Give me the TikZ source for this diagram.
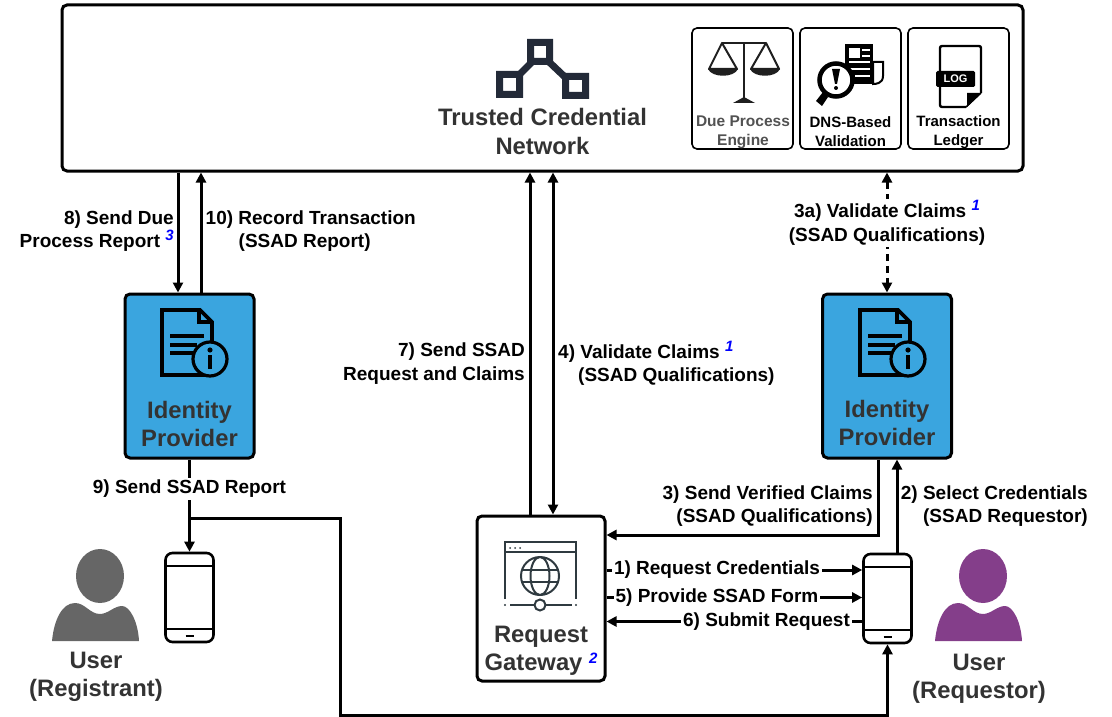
\documentclass[tikz,border=0pt]{standalone}
\usepackage{fontspec}
\setmainfont{Liberation Sans}
\usetikzlibrary{arrows.meta}
\definecolor{idpblue}{HTML}{3AA5DF}
\definecolor{textgray}{HTML}{333333}
\definecolor{logodark}{HTML}{232A38}
\definecolor{webgray}{HTML}{2F3A40}
\definecolor{userpurple}{HTML}{843E8A}
\definecolor{usergray}{HTML}{666666}
\newcommand{\refmark}[1]{\raisebox{7pt}{\fontsize{15}{15}\selectfont\itshape\textcolor{blue}{#1}}}
\tikzset{
  every node/.style={font=\fontsize{19}{23.5}\selectfont\bfseries, inner sep=0pt},
  mainbox/.style={draw, line width=3pt, rounded corners=5pt},
  toolbox/.style={draw, line width=1.6pt, rounded corners=5pt, minimum width=101pt, minimum height=121pt},
  idpbox/.style={mainbox, fill=idpblue, minimum width=129pt, minimum height=164pt},
  phonebox/.style={draw, line width=2.6pt, rounded corners=7pt, minimum width=48pt, minimum height=89pt},
  title/.style={font=\fontsize{23.8}{28.5}\selectfont\bfseries, text=textgray, align=center},
  tooltext/.style={font=\fontsize{15}{18.5}\selectfont\bfseries, align=center},
  flowlabel/.style={fill=white, inner xsep=2pt, inner ysep=2pt},
  flow/.style={line width=3pt, -{Triangle[length=10pt,width=10pt]}},
  flowboth/.style={line width=3pt, {Triangle[length=10pt,width=10pt]}-{Triangle[length=10pt,width=10pt]}},
  flowdash/.style={flowboth, dash pattern=on 7pt off 5pt},
  docinfo/.pic={
    \draw[line width=3.6pt, miter limit=2] (-25,-33) -- (13,-33) -- (25,-21) -- (25,32) -- (-25,32) -- cycle;
    \draw[line width=3.2pt] (12,-33) -- (12,-21) -- (25,-21);
    \draw[line width=3.2pt] (-17,-7) -- (17,-7) (-17,2) -- (10,2) (-17,10) -- (6,10);
    \draw[line width=3.2pt, fill=idpblue] (23,16) circle (17);
    \fill (23,7) circle (2.6);
    \draw[line width=3.8pt] (23,12) -- (23,26);
  },
  usericon/.pic={
    \fill (0,0) ellipse (24 and 27);
    \fill (-48,65) .. controls (-46,44) and (-38,27) .. (-25,27)
      .. controls (-15,27) and (-10,38) .. (0,38)
      .. controls (8,38) and (14,30) .. (22,30)
      .. controls (30,30) and (38,46) .. (39,65) -- cycle;
  },
}
\begin{document}
\begin{tikzpicture}[x=1pt,y=-1pt]
  \useasboundingbox (0,0) rectangle (1112,717);
  \node[mainbox, minimum width=961pt, minimum height=166pt] (network) at (542.5,88) {};
  \node[toolbox] (dueprocess) at (742.5,88.5) {};
  \node[toolbox] (dnsbased) at (850.5,88.5) {};
  \node[toolbox] (ledger) at (958.5,88.5) {};
  \node[idpbox] (idpleft) at (189.5,376) {};
  \node[idpbox] (idpright) at (887,376) {};
  \node[mainbox, minimum width=128pt, minimum height=165pt] (gateway) at (541,598.5) {};
  \node[phonebox] (phoneleft) at (189.5,597.5) {};
  \node[phonebox] (phoneright) at (887.5,598.5) {};
  \coordinate (reportdown) at ([xshift=-11.5pt]idpleft.north);
  \coordinate (recordup) at ([xshift=11.5pt]idpleft.north);
  \coordinate (requestup) at ([xshift=-11pt]gateway.north);
  \coordinate (validateboth) at ([xshift=12pt]gateway.north);
  \coordinate (branch) at (idpleft.south |- 0,518);
  \coordinate (branchright) at (340,518);
  \coordinate (branchdown) at (340,715);
  \coordinate (branchend) at (phoneright.south |- 0,715);
  \coordinate (verifiedcorner) at (878,535);
  % connectors
  \draw[flow] (network.south -| reportdown) -- (reportdown);
  \draw[flow] (recordup) -- (network.south -| recordup);
  \draw[flow] (requestup) -- (network.south -| requestup);
  \draw[flowboth] (validateboth) -- (network.south -| validateboth);
  \draw[flowdash] (network.south -| idpright.north) -- (idpright.north);
  \draw[flow] (idpleft.south) -- (phoneleft.north);
  \draw[flow] (branch) -- (branchright) -- (branchdown) -- (branchend) -- (phoneright.south);
  \draw[flow] (idpright.south -| verifiedcorner) -- (verifiedcorner) -- (gateway.east |- verifiedcorner);
  \draw[flow] ([xshift=9.5pt]phoneright.north) -- ([xshift=10pt]idpright.south);
  \draw[flow] (gateway.east |- 0,570) -- (phoneright.west |- 0,570);
  \draw[flow] (gateway.east |- 0,597.5) -- (phoneright.west |- 0,597.5);
  \draw[flow] (phoneright.west |- 0,621.5) -- (gateway.east |- 0,621.5);
  % labels
  \node[align=right, anchor=east] (sendreport) at (174,231) {8) Send Due\\Process Report \refmark{3}};
  \node[align=left, anchor=west] (record) at (205.5,231) {10) Record Transaction\\\hspace*{33pt}(SSAD Report)};
  \node[align=right, anchor=east] (sendrequest) at (525,363.5) {7) Send SSAD\\Request and Claims};
  \node[align=left, anchor=west] (validatefour) at (558,363.5) {4) Validate Claims \refmark{1}\\\hspace*{20pt}(SSAD Qualifications)};
  \node[flowlabel, align=center] (validatethree) at (887,223) {3a) Validate Claims \refmark{1}\\(SSAD Qualifications)};
  \node[align=right, anchor=east] (verified) at (873,506) {3) Send Verified Claims\\(SSAD Qualifications)};
  \node[align=right, anchor=east] (select) at (1088,506) {2) Select Credentials\\(SSAD Requestor)};
  \node[flowlabel] (sendssad) at (189.5,489) {9) Send SSAD Report};
  \node[flowlabel] (reqcred) at (717,570) {1) Request Credentials};
  \node[flowlabel] (provide) at (717,598) {5) Provide SSAD Form};
  \node[flowlabel] (submit) at (766.5,622) {6) Submit Request};
  % network
  \node[title] (networktext) at (542.5,131.5) {Trusted Credential\\Network};
  \draw[logodark, line width=7pt] (518,76) -- (534,60) (547,60) -- (566,78);
  \fill[logodark, even odd rule] (527,39) rectangle (553,65) (534,46) rectangle (546,58);
  \fill[logodark, even odd rule] (496,71) rectangle (523,98) (503,78) rectangle (516,91);
  \fill[logodark, even odd rule] (562,73) rectangle (589,99) (569,80) rectangle (582,92);
  \node[tooltext, text=textgray!85, font=\fontsize{15.5}{18.5}\selectfont\bfseries] (duetext) at (743,132.5) {Due Process\\Engine};
  \node[tooltext] (dnstext) at (850.5,131.5) {DNS-Based\\Validation};
  \node[tooltext] (ledgertext) at (958.5,132) {Transaction\\Ledger};
  % scales
  \draw[textgray!60!black, line width=2.5pt] (722,43) -- (766,43) (744,43) -- (744,99);
  \fill[textgray!60!black] (733,103) -- (744,97) -- (755,103) -- cycle;
  \draw[textgray!60!black, line width=2pt, line join=round] (709,69) -- (722,43) -- (737,69) -- cycle (751,69) -- (766,43) -- (779,69) -- cycle;
  \fill[textgray!60!black] (708,69) .. controls (712,78) and (734,78) .. (738,69) -- cycle;
  \fill[textgray!60!black] (750,69) .. controls (754,78) and (776,78) .. (780,69) -- cycle;
  % dns icon
  \fill (845,44) rectangle (873,84);
  \draw[line width=2pt, fill=white] (873,62) -- (883,62) -- (883,76) .. controls (883,84) and (875,84) .. (873,84) -- cycle;
  \fill[white] (849,48) rectangle (860,58);
  \draw[white, line width=1.6pt] (862,50) -- (870,50) (862,56) -- (870,56) (849,62) -- (870,62) (849,69) -- (870,69) (855,76) -- (870,76);
  \draw[line width=4.5pt, fill=white] (836,80) circle (16.5);
  \fill (828,97) -- (822,106) -- (816,101) -- (823,92) -- cycle;
  \fill (832,69) -- (840,69) -- (837,84) -- (835,84) -- cycle;
  \fill (836,88) circle (2);
  % ledger icon
  \draw[line width=2.4pt, rounded corners=2pt] (966,107) -- (940,107) -- (940,46) -- (981,46) -- (981,93);
  \fill (967,107) -- (981,93) -- (967,93) -- cycle;
  \draw[line width=1.5pt] (966,107) -- (981,93);
  \node[fill=black, rounded corners=1.5pt, minimum width=39pt, minimum height=16pt, text=white, font=\fontsize{11}{11}\selectfont\bfseries] (logbadge) at (955.5,79) {LOG};
  % identity providers
  \pic at (187,343) {docinfo};
  \pic at (885,343) {docinfo};
  \node[title] (idplefttext) at (189.5,424) {Identity\\Provider};
  \node[title] (idprighttext) at (887,423) {Identity\\Provider};
  % gateway icon
  \begin{scope}[webgray, line width=2pt]
    \draw (505,599) -- (505,542) -- (576,542) -- (576,599);
    \draw (505,552) -- (576,552);
    \fill (510,548) circle (1) (515,548) circle (1) (520,548) circle (1);
    \draw (540,576) circle (19) (540,576) ellipse (9.5 and 19);
    \draw (522,570) -- (558,570) (522,582) -- (558,582);
    \draw (510,605) -- (534,605) (546,605) -- (572,605);
    \draw (540,605) circle (5.5);
    \fill (505,605) circle (1.2) (576,605) circle (1.2);
  \end{scope}
  \node[title] (gatewaytext) at (541,651) {Request\\Gateway \refmark{2}};
  % phones
  \draw[line width=2.2pt] ([yshift=-14pt]phoneleft.north west) -- ([yshift=-14pt]phoneleft.north east);
  \draw[line width=2.2pt] ([yshift=14pt]phoneleft.south west) -- ([yshift=14pt]phoneleft.south east);
  \draw[line width=2pt] ([yshift=7pt,xshift=-4pt]phoneleft.south) -- ([yshift=7pt,xshift=4pt]phoneleft.south);
  \draw[line width=2.2pt] ([yshift=-14pt]phoneright.north west) -- ([yshift=-14pt]phoneright.north east);
  \draw[line width=2.2pt] ([yshift=14pt]phoneright.south west) -- ([yshift=14pt]phoneright.south east);
  \draw[line width=2pt] ([yshift=7pt,xshift=-4pt]phoneright.south) -- ([yshift=7pt,xshift=4pt]phoneright.south);
  % users
  \pic[usergray] at (100,576) {usericon};
  \pic[userpurple] at (983,576) {usericon};
  \node[title] (userlefttext) at (96,677) {User\\(Registrant)};
  \node[title] (userrighttext) at (979,679) {User\\(Requestor)};
\end{tikzpicture}
\end{document}
